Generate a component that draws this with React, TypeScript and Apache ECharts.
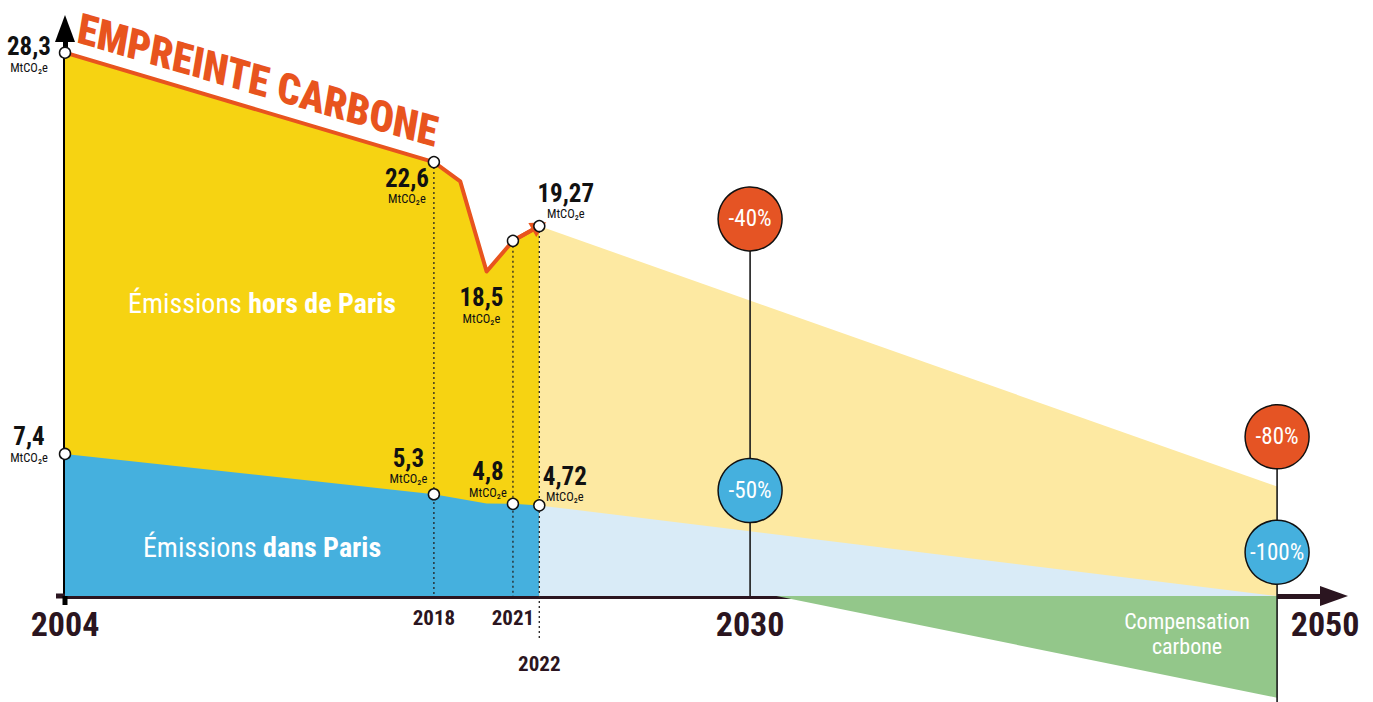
import { useEffect, useRef } from 'react';
import * as echarts from 'echarts';

const FONT = "'Roboto Condensed', Roboto, sans-serif";

// ---- data ----
const years = [2004, 2018, 2019, 2020, 2021, 2022];
const footprint = [28.3, 22.6, 21.6, 16.9, 18.5, 19.27];
const parisYears = [2004, 2018, 2020, 2021, 2022];
const parisEmissions = [7.4, 5.3, 4.82, 4.8, 4.72];
const keyYears = [2004, 2018, 2021, 2022];
const projectionYears = [2022, 2050];
const footprintProjection = [19.27, 5.7];
const parisProjection = [4.72, 0];
const offsetYears = [2031, 2050];
const offsetValues = [0, -5.3];
const targetYears = [2030, 2030, 2050, 2050];
const targetLevels = [19.64, 5.49, 8.29, 2.28];
const targetLabels = ['-40%', '-50%', '-80%', '-100%'];
const targetKinds = ['footprint', 'paris', 'footprint', 'paris'];
const axisYears = [2004, 2018, 2021, 2022, 2030, 2050];
const dropLineEnds: Record<number, number> = { 2018: 0, 2021: 0, 2022: -2.3 };

// ---- styling ----
const ORANGE = '#e8541e';
const YELLOW = '#f6d312';
const BLUE = '#45b0de';
const PALE_YELLOW = '#fde9a2';
const PALE_BLUE = '#d9ebf7';
const GREEN = '#93c78a';
const DARK = '#2b1520';

const footprintLabelOffsets: Record<number, number[]> = {
  2004: [-36, 1], 2018: [-27, 23], 2021: [-31.5, 64], 2022: [26.5, -26],
};
const parisLabelOffsets: Record<number, number[]> = {
  2004: [-36, -10], 2018: [-25.5, -29], 2021: [-25, -25], 2022: [25.5, -22],
};

const fmt = (v: number) => String(v).replace('.', ',');
const zip = (xs: number[], ys: number[]) => xs.map((x, i) => [x, ys[i]]);

const valueRich = {
  v: { fontFamily: FONT, fontSize: 25, fontWeight: 'bold', color: '#111', lineHeight: 27, align: 'center' },
  u: { fontFamily: FONT, fontSize: 12.5, color: '#111', lineHeight: 14, align: 'center' },
};

function pointData(xs: number[], ys: number[], offsets: Record<number, number[]>) {
  return keyYears.map((y) => {
    const v = ys[xs.indexOf(y)];
    return {
      value: [y, v],
      label: {
        show: true,
        position: 'inside',
        offset: offsets[y],
        formatter: `{v|${fmt(v)}}\n{u|MtCO₂e}`,
        rich: valueRich,
      },
    };
  });
}

export default function App() {
  const ref = useRef<HTMLDivElement>(null);
  useEffect(() => {
    if (!ref.current) return;
    const chart = echarts.init(ref.current, null, { renderer: 'svg' });

    const dropSeries = keyYears.slice(1).map((y) => ({
      type: 'line',
      data: [[y, footprint[years.indexOf(y)]], [y, dropLineEnds[y]]],
      symbol: 'none',
      clip: false,
      lineStyle: { color: '#222', width: 1.3, type: [2, 3] },
      z: 4,
      silent: true,
    }));

    const targetLineSeries = [2030, 2050].map((y) => {
      const lv = targetLevels.filter((_, i) => targetYears[i] === y);
      const top = Math.max(...lv);
      const bottom = y === 2050 ? -5.6 : 0;
      return {
        type: 'line',
        data: [[y, top], [y, bottom]],
        symbol: 'none',
        clip: false,
        lineStyle: { color: '#1a1a1a', width: 1.6 },
        z: 4,
        silent: true,
      };
    });

    const option: any = {
      animation: false,
      grid: { left: 65, right: 39, top: 28.5, bottom: 106, containLabel: false },
      xAxis: {
        type: 'value',
        min: 2004,
        max: 2052.16,
        axisLine: {
          show: true,
          lineStyle: { color: DARK, width: 5 },
          symbol: ['none', 'triangle'],
          symbolSize: [20, 28],
        },
        axisTick: { show: false },
        splitLine: { show: false },
        axisLabel: {
          customValues: axisYears,
          margin: 11,
          formatter: (v: number) => {
            if (v === 2022) return `{low|${v}}`;
            if (v === 2050) return `{end|${v}}`;
            if (v === 2004 || v === 2030) return `{big|${v}}`;
            return `{small|${v}}`;
          },
          rich: {
            big: { fontFamily: FONT, fontSize: 34, fontWeight: 'bold', color: DARK, lineHeight: 34 },
            end: { fontFamily: FONT, fontSize: 34, fontWeight: 'bold', color: DARK, lineHeight: 34, padding: [0, 0, 0, 96] },
            small: { fontFamily: FONT, fontSize: 21, fontWeight: 'bold', color: DARK, lineHeight: 21 },
            low: { fontFamily: FONT, fontSize: 21, fontWeight: 'bold', color: DARK, lineHeight: 21, padding: [92, 0, 0, 0] },
          },
        },
      },
      yAxis: {
        type: 'value',
        min: 0,
        max: 29.56,
        axisLine: {
          show: true,
          lineStyle: { color: '#000', width: 5 },
          symbol: ['none', 'triangle'],
          symbolSize: [20, 27],
        },
        axisTick: { show: false },
        axisLabel: { show: false },
        splitLine: { show: false },
      },
      series: [
        {
          type: 'line',
          name: 'Empreinte carbone',
          data: zip(years, footprint),
          symbol: 'none',
          lineStyle: { color: ORANGE, width: 4, join: 'round' },
          areaStyle: { color: YELLOW, opacity: 1 },
          z: 2,
        },
        {
          type: 'line',
          name: 'Émissions dans Paris',
          data: zip(parisYears, parisEmissions),
          symbol: 'none',
          lineStyle: { width: 0 },
          areaStyle: { color: BLUE, opacity: 1 },
          z: 2,
        },
        {
          type: 'line',
          data: zip(projectionYears, footprintProjection),
          symbol: 'none',
          lineStyle: { width: 0 },
          areaStyle: { color: PALE_YELLOW, opacity: 1 },
          z: 2,
        },
        {
          type: 'line',
          data: zip(projectionYears, parisProjection),
          symbol: 'none',
          lineStyle: { width: 0 },
          areaStyle: { color: PALE_BLUE, opacity: 1 },
          z: 2,
        },
        {
          type: 'line',
          name: 'Compensation carbone',
          data: zip(offsetYears, offsetValues),
          symbol: 'none',
          clip: false,
          lineStyle: { width: 0 },
          areaStyle: { color: GREEN, opacity: 1 },
          z: 2,
        },
        {
          type: 'lines',
          coordinateSystem: 'cartesian2d',
          data: [{ coords: [[2021, footprint[years.indexOf(2021)]], [2022, footprint[years.indexOf(2022)]]] }],
          symbol: ['none', 'triangle'],
          symbolSize: 16,
          lineStyle: { color: ORANGE, width: 4, opacity: 1 },
          z: 3,
        },
        ...dropSeries,
        ...targetLineSeries,
        {
          type: 'scatter',
          data: pointData(years, footprint, footprintLabelOffsets),
          symbol: 'circle',
          symbolSize: 11,
          itemStyle: { color: '#fff', borderColor: '#111', borderWidth: 1.5, opacity: 1 },
          z: 10,
        },
        {
          type: 'scatter',
          data: pointData(parisYears, parisEmissions, parisLabelOffsets),
          symbol: 'circle',
          symbolSize: 11,
          itemStyle: { color: '#fff', borderColor: '#111', borderWidth: 1.5, opacity: 1 },
          z: 10,
        },
        {
          type: 'scatter',
          data: targetYears.map((y, i) => ({
            value: [y, targetLevels[i]],
            itemStyle: { color: targetKinds[i] === 'footprint' ? '#e55424' : BLUE },
            label: { formatter: targetLabels[i] },
          })),
          symbol: 'circle',
          symbolSize: 64,
          clip: false,
          itemStyle: { borderColor: '#111', borderWidth: 1.5, opacity: 1 },
          label: {
            show: true,
            position: 'inside',
            color: '#fff',
            fontFamily: FONT,
            fontSize: 23,
          },
          z: 11,
        },
      ],
      graphic: [
        {
          type: 'line',
          z: 1,
          shape: { x1: 56, y1: 596, x2: 66, y2: 596 },
          style: { stroke: DARK, lineWidth: 5 },
        },
        {
          type: 'line',
          z: 1,
          shape: { x1: 65, y1: 596, x2: 65, y2: 605 },
          style: { stroke: '#000', lineWidth: 5 },
        },
        {
          type: 'text',
          x: 78,
          y: 28,
          skewY: -0.285,
          scaleX: 0.93,
          z: 20,
          style: {
            text: 'EMPREINTE CARBONE',
            fill: ORANGE,
            fontFamily: FONT,
            fontSize: 44,
            fontWeight: 900,
            fontStyle: 'italic',
            align: 'left',
            verticalAlign: 'middle',
          },
        },
        {
          type: 'text',
          x: 262,
          y: 303,
          z: 20,
          style: {
            text: '{a|Émissions }{b|hors de Paris}',
            align: 'center',
            verticalAlign: 'middle',
            fill: '#fff',
            rich: {
              a: { fontFamily: FONT, fontSize: 28, fill: '#fff' },
              b: { fontFamily: FONT, fontSize: 28, fontWeight: 'bold', fill: '#fff' },
            },
          },
        },
        {
          type: 'text',
          x: 262,
          y: 547,
          z: 20,
          style: {
            text: '{a|Émissions }{b|dans Paris}',
            align: 'center',
            verticalAlign: 'middle',
            fill: '#fff',
            rich: {
              a: { fontFamily: FONT, fontSize: 28, fill: '#fff' },
              b: { fontFamily: FONT, fontSize: 28, fontWeight: 'bold', fill: '#fff' },
            },
          },
        },
        {
          type: 'text',
          x: 1187,
          y: 634,
          z: 20,
          style: {
            text: 'Compensation\ncarbone',
            align: 'center',
            verticalAlign: 'middle',
            fill: '#fff',
            fontFamily: FONT,
            fontSize: 22,
            lineHeight: 25,
          },
        },
      ],
    };

    chart.setOption(option);
    return () => chart.dispose();
  }, []);

  return (
    <div
      ref={ref}
      style={{ position: 'fixed', left: 0, top: 0, width: 1373, height: 702, background: '#fff' }}
    />
  );
}
